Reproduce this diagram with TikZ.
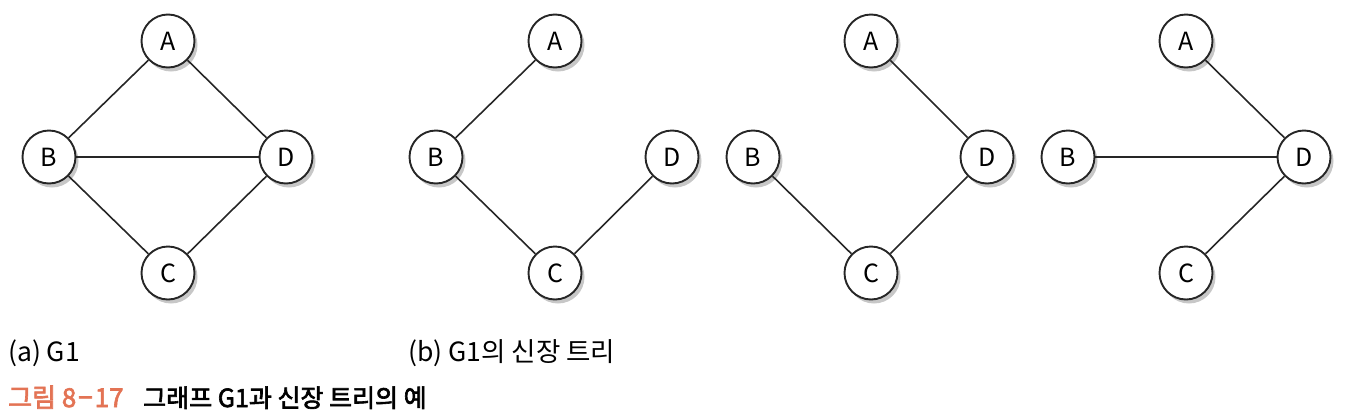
\documentclass[tikz,border=0pt]{standalone}
\usepackage{fontspec}
\setmainfont{Noto Sans CJK KR}
\newfontfamily\capfont[FakeBold=2.5]{Noto Sans CJK KR}
\usetikzlibrary{shadows}
\definecolor{myorange}{rgb}{0.89,0.45,0.33}
\definecolor{mygray}{gray}{0.15}

\begin{document}
\begin{tikzpicture}[x=1pt,y=-1pt,
  vertex/.style={circle,draw=mygray,line width=1.9pt,fill=white,minimum size=53pt,inner sep=0pt,
    font=\fontsize{25}{25}\selectfont,
    drop shadow={shadow xshift=3pt,shadow yshift=-4pt,opacity=0.22,fill=black}},
  edge/.style={line width=1.6pt,draw=mygray},
  sublabel/.style={anchor=base west,inner sep=0pt,font=\fontsize{26.5}{26.5}\selectfont}]
\useasboundingbox (0,0) rectangle (1349,418);

% (a) G1
\node[vertex] (a1) at (168,41) {A};
\node[vertex] (b1) at (49,157) {B};
\node[vertex] (d1) at (286,157) {D};
\node[vertex] (c1) at (168,273) {C};
\draw[edge] (a1) -- (b1);
\draw[edge] (a1) -- (d1);
\draw[edge] (b1) -- (d1);
\draw[edge] (b1) -- (c1);
\draw[edge] (d1) -- (c1);

% (b) spanning trees
\node[vertex] (a2) at (555,41) {A};
\node[vertex] (b2) at (436,157) {B};
\node[vertex] (d2) at (672,157) {D};
\node[vertex] (c2) at (555,273) {C};
\draw[edge] (a2) -- (b2);
\draw[edge] (b2) -- (c2);
\draw[edge] (c2) -- (d2);

\node[vertex] (a3) at (871,41) {A};
\node[vertex] (b3) at (753,157) {B};
\node[vertex] (d3) at (987,157) {D};
\node[vertex] (c3) at (871,273) {C};
\draw[edge] (b3) -- (c3);
\draw[edge] (c3) -- (d3);
\draw[edge] (d3) -- (a3);

\node[vertex] (a4) at (1186,41) {A};
\node[vertex] (b4) at (1068,157) {B};
\node[vertex] (d4) at (1304,157) {D};
\node[vertex] (c4) at (1186,273) {C};
\draw[edge] (a4) -- (d4);
\draw[edge] (b4) -- (d4);
\draw[edge] (d4) -- (c4);

% labels
\node[sublabel] (la) at (8,361) {(a) G1};
\node[sublabel] (lb) at (408,361) {(b) G1의 신장 트리};
\node[anchor=base west,inner sep=0pt,font=\fontsize{26}{26}\capfont,text=myorange] (cap) at (8,407) {그림 8\kern2pt−\kern2pt17};
\node[anchor=base west,inner sep=0pt,font=\fontsize{25}{25}\capfont] (captxt) at (143,407) {그래프 G1과 신장 트리의 예};
\end{tikzpicture}
\end{document}
